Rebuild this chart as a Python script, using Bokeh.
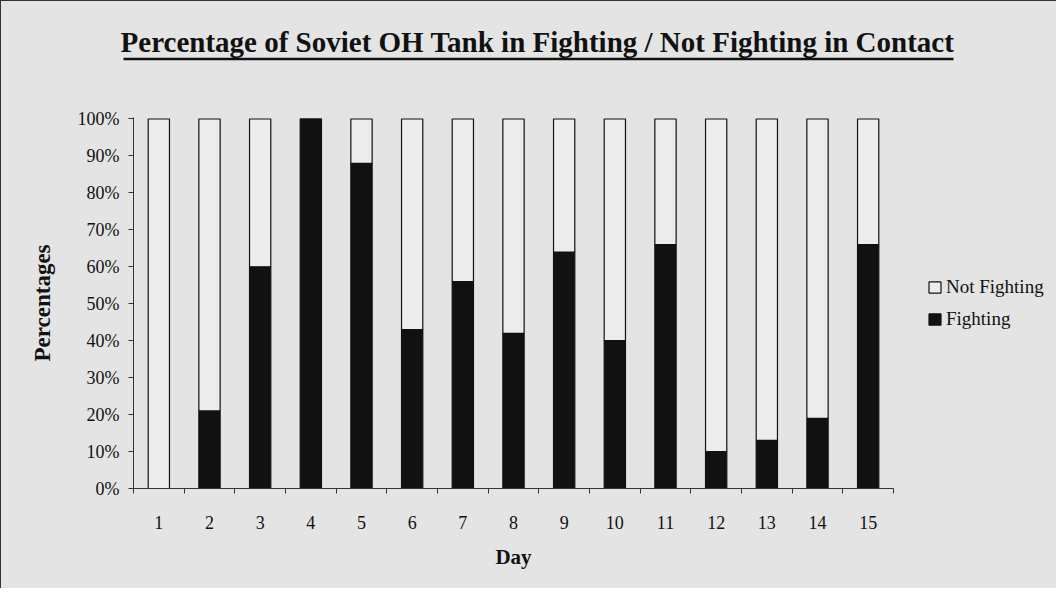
from bokeh.plotting import figure
from bokeh.models import (Range1d, FixedTicker, Legend, LegendItem, ColumnDataSource)
from bokeh.layouts import column, row
from bokeh.core.properties import value
from bokeh.embed import file_html
from bokeh.resources import INLINE

days = [str(d) for d in range(1, 16)]
day_pos = list(range(1, 16))
fighting = [0, 21, 60, 100, 88, 43, 56, 42, 64, 40, 66, 10, 13, 19, 66]
not_fighting = [100, 79, 40, 0, 12, 57, 44, 58, 36, 60, 34, 90, 87, 81, 34]
y_ticks = [0, 10, 20, 30, 40, 50, 60, 70, 80, 90, 100]
y_labels = {t: f"{t}%" for t in y_ticks}
title_text = "Percentage of Soviet OH Tank in Fighting / Not Fighting in Contact"

BG = "#e4e4e4"
FONT = "Liberation Serif"
INK = "#111111"
W = 1047
HEAD_H = 80

# ---- header (title + underline), in its own pixel-like coordinates ----
head = figure(frame_width=W, frame_height=HEAD_H, output_backend="svg",
              toolbar_location=None, x_range=Range1d(0, W), y_range=Range1d(HEAD_H, 0),
              min_border=0)
head.axis.visible = False
head.grid.visible = False
head.outline_line_color = None
head.background_fill_color = BG
head.border_fill_color = BG
head.text(x=[536], y=[40], text=[title_text], text_font=value(FONT),
          text_font_style="bold", text_font_size="29px", text_align="center",
          text_baseline="alphabetic", text_color=INK)
head.segment(x0=[122], y0=[57.5], x1=[952], y1=[57.5], line_color=INK, line_width=2.5)

# ---- main chart ----
src = ColumnDataSource(dict(x=day_pos, fighting=fighting, not_fighting=not_fighting))

p = figure(frame_width=760, frame_height=371, output_backend="svg", toolbar_location=None,
           x_range=Range1d(0.5, 15.5), y_range=Range1d(0, 100.4),
           min_border_left=132, min_border_right=155, min_border_top=116 - HEAD_H,
           min_border_bottom=100)
p.background_fill_color = BG
p.border_fill_color = BG
p.outline_line_color = None
p.grid.visible = False

r = p.vbar_stack(["fighting", "not_fighting"], x="x", width=0.42, source=src,
                 fill_color=[INK, "#ececec"], line_color=INK, line_width=1.2)

p.xaxis.ticker = FixedTicker(ticks=day_pos, minor_ticks=[d + 0.5 for d in range(0, 16)])
p.xaxis.major_label_overrides = {d: s for d, s in zip(day_pos, days)}
p.xaxis.minor_tick_out = 5
p.xaxis.minor_tick_in = 0
p.xaxis.minor_tick_line_color = "#333333"
p.xaxis.major_label_standoff = 21
p.xaxis.axis_label = "Day"
p.xaxis.axis_label_standoff = 13

p.yaxis.ticker = FixedTicker(ticks=y_ticks, minor_ticks=[])
p.yaxis.major_label_overrides = y_labels
p.yaxis.major_tick_out = 5
p.yaxis.major_tick_in = 0
p.yaxis.major_label_standoff = 9
p.yaxis.axis_label = "Percentages"
p.yaxis.axis_label_standoff = 20

for ax in (p.xaxis[0], p.yaxis[0]):
    ax.axis_line_color = "#333333"
    ax.major_label_text_font = FONT
    ax.major_label_text_font_size = "18px"
    ax.major_label_text_color = INK
    ax.axis_label_text_font = FONT
    ax.axis_label_text_font_style = "bold"
    ax.axis_label_text_color = INK
p.xaxis.axis_label_text_font_size = "21px"
p.yaxis.axis_label_text_font_size = "23px"
p.xaxis.major_tick_line_color = None
p.yaxis.major_tick_line_color = "#333333"

legend = Legend(items=[LegendItem(label="Not Fighting", renderers=[r[1]]),
                       LegendItem(label="Fighting", renderers=[r[0]])],
                location="center_left", margin=34, padding=10, spacing=10,
                glyph_width=15, glyph_height=14, label_standoff=4,
                label_text_font=FONT, label_text_font_size="19px",
                label_text_color=INK,
                border_line_color=None, background_fill_alpha=0)
p.add_layout(legend, "right")

layout = column(row(head), row(p), spacing=0,
                styles={"border-left": "1px solid #333333",
                        "border-top": "1px solid #333333",
                        "background-color": BG})

open("out.html", "w").write(file_html(layout, INLINE))
